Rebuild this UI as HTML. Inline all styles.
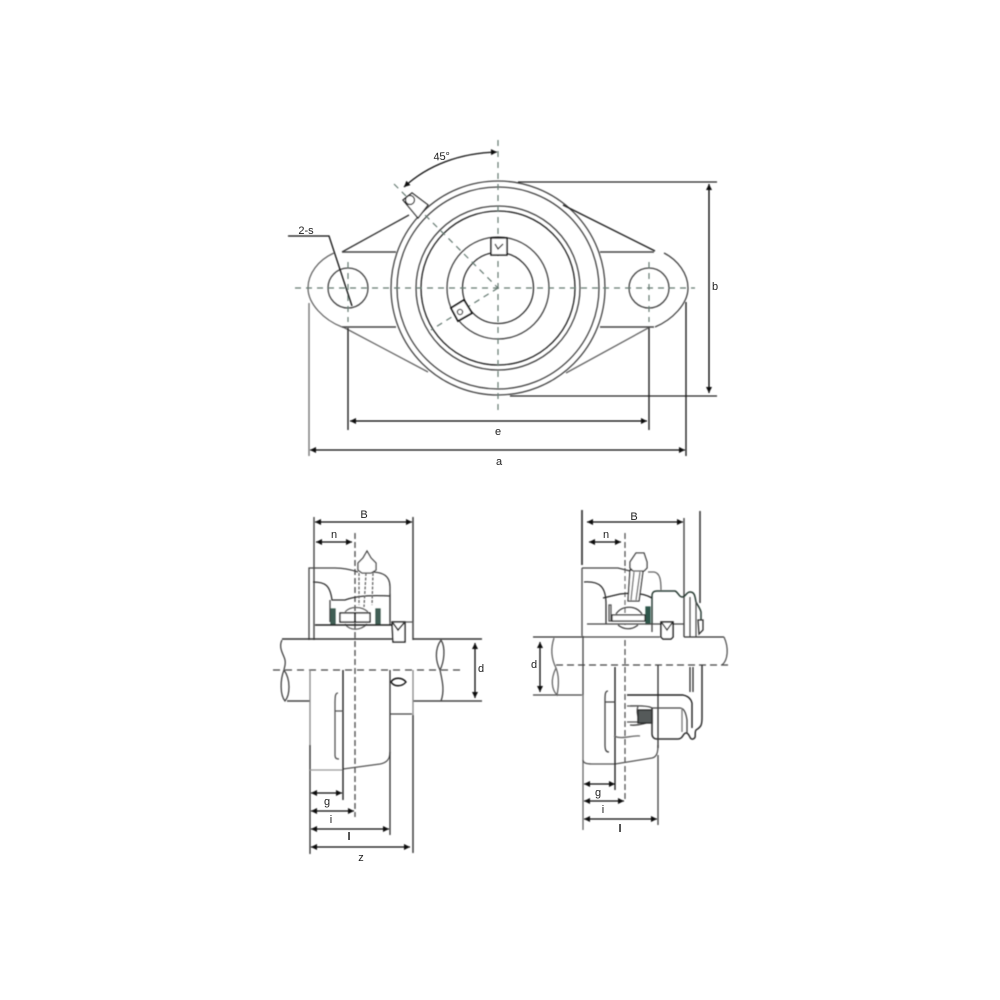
<!DOCTYPE html>
<html><head><meta charset="utf-8"><style>
html,body{margin:0;padding:0;background:#fff;width:1000px;height:1000px;overflow:hidden}
svg{display:block}
text{font-family:"Liberation Sans",sans-serif;font-size:11px;fill:#222;text-anchor:middle}
</style></head><body>
<svg width="1000" height="1000" viewBox="0 0 1000 1000" xmlns="http://www.w3.org/2000/svg">
<defs>
<filter id="b" x="-5%" y="-5%" width="110%" height="110%"><feGaussianBlur stdDeviation="0.4"/></filter>
<marker id="a" viewBox="0 0 10 10" refX="10" refY="5" markerWidth="8" markerHeight="6" markerUnits="userSpaceOnUse" orient="auto-start-reverse"><path d="M0 0L10 5L0 10Z" fill="#111"/></marker>
</defs>
<g filter="url(#b)" fill="none" stroke="#333" stroke-width="1.3">
<!-- TOP VIEW -->
<g stroke="#444">
<circle cx="498" cy="288" r="107"/>
<circle cx="498" cy="288" r="101"/>
<circle cx="498" cy="288" r="82"/>
<circle cx="498" cy="288" r="77" stroke="#222"/>
<circle cx="498" cy="288" r="51"/>
<circle cx="498" cy="288" r="35.5" stroke="#333"/>
<circle cx="348" cy="288" r="20"/>
<circle cx="649" cy="288" r="20"/>
<path d="M334 253C318 260 308 274 308 288C308 304 324 320 342 327" stroke="#666"/>
<path d="M664 253C678 260 688 274 688 288C688 304 672 320 655 327" stroke="#444"/>
<path d="M343 327L428 372M650 327L566 373" stroke="#666"/>
</g>
<path d="M342 252L409 215" stroke="#333"/>
<path d="M655 251L563 205" stroke="#222" stroke-width="1.4"/>
<path d="M342 252H396M600 252H654M342 327H396M600 327H654" stroke="#444" stroke-width="1.4"/>
<g stroke="#667a72" stroke-dasharray="6 5" stroke-width="1.2">
<path d="M295 288H695"/>
<path d="M498 140V412"/>
<path d="M348 262V322M649 262V322"/>
<path d="M394 184L498 288M498 288L431 330"/>
</g>
<path d="M403 200L412 193L428 205L418 218Z" fill="#fff" stroke="#222"/>
<circle cx="410" cy="200" r="4.5" stroke="#222"/>
<path d="M491 238H507V255H491Z" fill="#fff" stroke="#111" stroke-width="1.5"/>
<path d="M495 244L498 249L503 244" stroke="#222"/>
<path d="M451 308L464 300L472 313L458 321Z" fill="#fff" stroke="#111" stroke-width="1.8"/>
<circle cx="460" cy="312" r="2.6"/>
<path d="M288 236H329L352 306" stroke="#111"/>
<path d="M518 182H717M510 396H717" stroke="#222"/>
<path d="M709 184V393" stroke="#000" marker-start="url(#a)" marker-end="url(#a)"/>
<path d="M348 328V430M649 328V430" stroke="#222" stroke-width="1.4"/>
<path d="M350 421H647" stroke="#000" marker-start="url(#a)" marker-end="url(#a)"/>
<path d="M309 303V456" stroke="#777" stroke-width="1.4"/>
<path d="M686 302V456" stroke="#222" stroke-width="1.4"/>
<path d="M310 450H685" stroke="#111" marker-start="url(#a)" marker-end="url(#a)"/>
<path d="M404 187C428 165 460 153 497 152" stroke="#111" marker-start="url(#a)" marker-end="url(#a)"/>

<!-- BOTTOM LEFT -->
<path d="M314 517V640" stroke="#444" stroke-width="1.4"/>
<path d="M413 517V640M413 715V853" stroke="#333" stroke-width="1.4"/>
<path d="M315 522H412" stroke="#111" marker-start="url(#a)" marker-end="url(#a)"/>
<path d="M316 542H352" stroke="#111" marker-start="url(#a)" marker-end="url(#a)"/>
<path d="M355 533V817" stroke="#555" stroke-width="1.4" stroke-dasharray="6 3"/>
<path d="M309 640V568H335C345 568 352 570 358 572" stroke="#444"/>
<path d="M371 572C382 572 390 575 390 587V625" stroke="#444"/>
<path d="M313 582C325 582 330 585 332 600H345C355 596 372 595 390 596" stroke="#333"/>
<path d="M330 600V622M390 594V622" stroke="#444"/>
<path d="M331 609H335V624H331ZM376 609H380V624H376Z" fill="#3f5f55" stroke="#3c5a50"/>
<path d="M363 558L367 551L371 558L376 563L376 570L371 573H362L358 570L358 563Z" fill="#fff" stroke="#444"/>
<path d="M359 573L359 605M373 573L372 605M366 573L364 607" stroke="#666" stroke-dasharray="3 1.5"/>
<rect x="340" y="613" width="30" height="9" fill="#fff" stroke="#222" stroke-width="1.4"/>
<path d="M345 612C350 606 362 606 368 612M345 624C350 631 360 631 367 624" stroke="#666"/>
<path d="M355 613V622" stroke="#111" stroke-width="2"/>
<path d="M315 625H392" stroke="#222" stroke-width="1.5"/>
<path d="M392 622H413V640" stroke="#555"/>
<path d="M392 622H405V642H393Z" fill="#fff" stroke="#222" stroke-width="1.5"/>
<path d="M393 623L398 630L404 623" stroke="#111" stroke-width="1.5"/>
<path d="M282 639H392M413 639H482" stroke="#333" stroke-width="1.4"/>
<path d="M287 701H310M413 701H482" stroke="#444" stroke-width="1.4"/>
<path d="M282 640C278 648 284 655 285 660C286 665 284 668 284 670C280 680 280 695 285 701C290 695 291 680 284 670" stroke="#444"/>
<path d="M441 640C434 650 436 662 440 670C444 662 446 648 441 640M440 670C442 680 445 690 441 701" stroke="#444"/>
<path d="M273 670H460" stroke="#444" stroke-dasharray="7 5"/>
<path d="M475 643V698" stroke="#111" marker-start="url(#a)" marker-end="url(#a)"/>
<path d="M310 670V770" stroke="#888" stroke-width="1.3"/>
<path d="M310 745V854" stroke="#333" stroke-width="1.3"/>
<path d="M310 770H343" stroke="#999"/>
<path d="M343 769L380 764C386 763 390 760 390 752" stroke="#555"/>
<path d="M343 670V800" stroke="#222" stroke-width="1.4"/>
<path d="M390 670V835" stroke="#333" stroke-width="1.3"/>
<path d="M338 693C335 693 335 697 335 705V755C335 758 336 759 339 759M335 711H343" stroke="#555"/>
<path d="M390 714H412" stroke="#444"/>
<path d="M413 670V715" stroke="#888"/>
<path d="M391 682C394 677 402 677 406 682C402 687 394 687 391 682Z" stroke="#111" stroke-width="1.4"/>
<path d="M311 793H342" stroke="#111" marker-start="url(#a)" marker-end="url(#a)"/>
<path d="M311 811H354" stroke="#111" marker-start="url(#a)" marker-end="url(#a)"/>
<path d="M311 829H389" stroke="#111" marker-start="url(#a)" marker-end="url(#a)"/>
<path d="M311 847H410" stroke="#111" marker-start="url(#a)" marker-end="url(#a)"/>

<!-- BOTTOM RIGHT -->
<path d="M582 510V565" stroke="#333" stroke-width="1.7"/>
<path d="M582 568V636" stroke="#555" stroke-width="1.4"/>
<path d="M684 518V637" stroke="#444" stroke-width="1.4"/>
<path d="M700 511V603" stroke="#333" stroke-width="1.5"/>
<path d="M587 522H683" stroke="#111" marker-start="url(#a)" marker-end="url(#a)"/>
<path d="M589 542H621" stroke="#111" marker-start="url(#a)" marker-end="url(#a)"/>
<path d="M625 533V568M625 640V800" stroke="#555" stroke-width="1.3" stroke-dasharray="6 3"/>
<path d="M625 568V625" stroke="#777" stroke-dasharray="5 3"/>
<path d="M582 568H618L630 571" stroke="#444"/>
<path d="M648 572H654C660 573 661 580 661 590" stroke="#666"/>
<path d="M584 582C600 581 606 587 606 604V624" stroke="#333"/>
<path d="M603 598L620 594C635 592 645 594 652 598" stroke="#222"/>
<path d="M609 605H611V621H609Z" stroke="#555"/>
<path d="M646 607H650V624H646Z" fill="#2f574b" stroke="#2f574b"/>
<path d="M612 615H645V621H612Z" fill="#fff" stroke="#222"/>
<path d="M616 614C622 605 636 605 642 614M618 625C624 630 632 630 638 625" stroke="#444"/>
<path d="M630 570L643 571L639 601H628Z" fill="#fff" stroke="#333"/>
<path d="M634 572L631 600M640 572L636 600" stroke="#666"/>
<path d="M636 553H644L647 562V568L644 571H633L630 568V562Z" fill="#fff" stroke="#333"/>
<path d="M652 624V596C652 592 654 591 657 591H675C678 592 679 597 682 597C686 597 686 592 690 592C695 592 695 597 696 602C698 606 700 608 701 612V620" stroke="#2a3c36" stroke-width="1.5"/>
<path d="M690 597V637M696 602V637" stroke="#555"/>
<path d="M698 620H703V630L699 634Z" stroke="#333"/>
<path d="M587 624H652V632" stroke="#444"/>
<path d="M652 624H684" stroke="#444"/>
<path d="M661 622H673V637L671 639H663L661 637Z" fill="#fff" stroke="#111" stroke-width="1.5"/>
<path d="M662 623L667 630L672 623" stroke="#111" stroke-width="1.3"/>
<path d="M533 637H582M684 637H724" stroke="#333" stroke-width="1.3"/>
<path d="M582 637H660M533 695H556M556 695H582" stroke="#444" stroke-width="1.3"/>
<path d="M724 637C729 648 728 660 722 665" stroke="#555"/>
<path d="M554 638C550 650 552 660 556 668C560 678 558 690 557 695C552 690 550 680 556 668" stroke="#666"/>
<path d="M556 665H728" stroke="#444" stroke-dasharray="7 4"/>
<path d="M540 642V692" stroke="#111" marker-start="url(#a)" marker-end="url(#a)"/>
<path d="M583 636V695" stroke="#444" stroke-width="1.3"/>
<path d="M583 695V830" stroke="#666" stroke-width="1.3"/>
<path d="M583 760C583 763 586 764 592 764H615L652 758C657 757 658 752 658 745" stroke="#555"/>
<path d="M615 667V790" stroke="#222" stroke-width="1.4"/>
<path d="M658 665V748" stroke="#333" stroke-width="1.3"/>
<path d="M658 755V825" stroke="#444" stroke-width="1.3"/>
<path d="M608 691C605 691 605 695 605 700V745C605 750 606 752 609 752M605 702H615" stroke="#444"/>
<path d="M627 695H683C688 696 691 699 692 703V728" stroke="#222" stroke-width="1.4"/>
<path d="M652 708C648 705 632 706 630 706M630 725C640 726 650 722 652 720" stroke="#444"/>
<path d="M627 706H638C636 712 638 718 641 722M627 722H640" stroke="#555"/>
<path d="M638 710H652V723H638Z" fill="#555a5a" stroke="#222"/>
<path d="M652 708H680C684 708 686 713 687 720V733" stroke="#444"/>
<path d="M652 708V734C652 737 654 739 657 739H678C683 739 683 733 686 733C690 733 689 740 693 739C697 738 694 733 696 730C701 727 702 725 702 718V665" stroke="#333" stroke-width="1.5"/>
<path d="M690 667V692M693 667V692" stroke="#333"/>
<path d="M682 708V732" stroke="#777"/>
<path d="M614 736C622 740 632 735 640 736" stroke="#666"/>
<path d="M584 784H615" stroke="#111" marker-start="url(#a)" marker-end="url(#a)"/>
<path d="M584 801H624" stroke="#111" marker-start="url(#a)" marker-end="url(#a)"/>
<path d="M584 819H657" stroke="#111" marker-start="url(#a)" marker-end="url(#a)"/>
</g>
<text x="442" y="160" transform="rotate(-4 442 160)">45°</text>
<text x="306" y="234">2-s</text>
<text x="715" y="290">b</text>
<text x="498" y="435">e</text>
<text x="499" y="465">a</text>
<text x="364" y="518">B</text>
<text x="334" y="538">n</text>
<text x="481" y="672">d</text>
<text x="327" y="805">g</text>
<text x="331" y="823">i</text>
<text x="349" y="840" style="font-weight:bold">l</text>
<text x="361" y="861">z</text>
<text x="634" y="520">B</text>
<text x="606" y="538">n</text>
<text x="534" y="668">d</text>
<text x="598" y="796">g</text>
<text x="603" y="813">i</text>
<text x="620" y="832" style="font-weight:bold">l</text>
</svg>
</body></html>
